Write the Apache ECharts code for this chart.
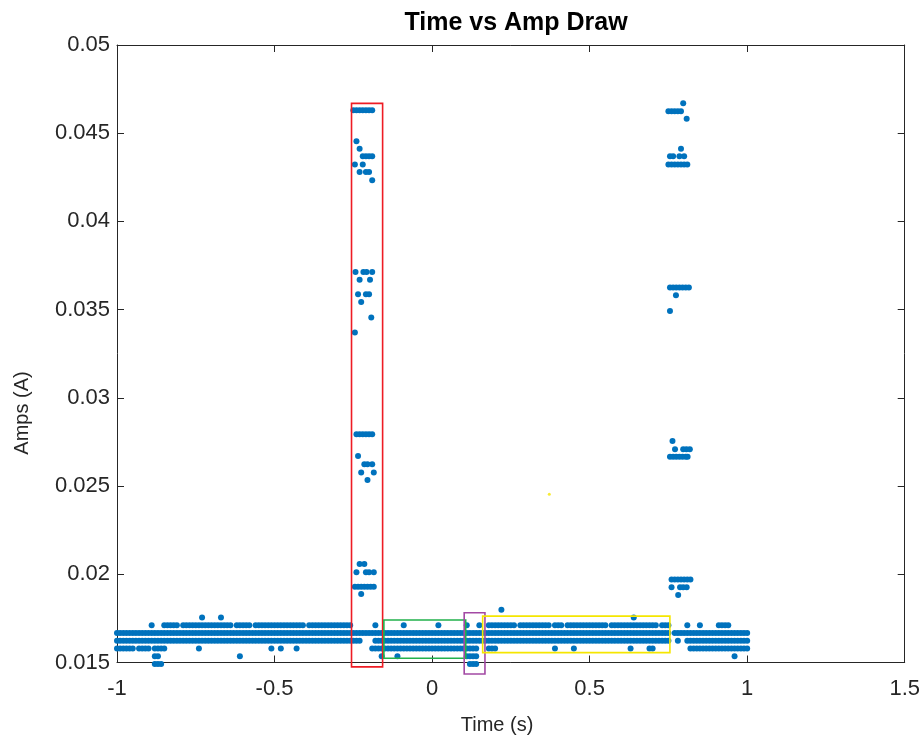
<!DOCTYPE html>
<html>
<head>
<meta charset="utf-8">
<script src="https://cdn.jsdelivr.net/npm/echarts@6/dist/echarts.min.js"></script>
<style>html,body{margin:0;padding:0;background:#fff}#chart{width:923px;height:740px}</style>
</head>
<body>
<div id="chart"></div>
<script>
// ---------------- DATA ----------------
// Quantised current levels (A) in the dense base band
const levelA = 0.01491, levelB = 0.01535, levelC = 0.01579, levelD = 0.01623;
const levelE = 0.01667, levelF = 0.01711, levelG = 0.01755, levelH = 0.01799;

// Band occupancy: one character per time sample,
// samples at t = -1.00, -0.99, ... , 1.00 (groups of ten for readability)
const maskStart = -1.0, maskStep = 0.01;
const maskE = "1111111111 1111111111 1111111111 1111111111 1111111111 1111111111 1111111111 1111111111 1111111111 1111111111 1111111111 1111111111 1111111111 1111111111 1111111111 1111111111 1111111111 1111110111 1111111111 1111111111 1";
const maskD = "1111111111 1111111111 1111111111 1111111111 1111111111 1111111111 1111111111 1111111100 0011111111 1111111111 1111111111 1111111111 1111111111 1111111111 1111111111 1111111111 1111111111 1111110010 0111111111 1111111111 1";
const maskF = "0000000000 0100011111 0111111111 1111111011 1110111111 1111111111 0111111111 1111100000 0010000000 0100000000 0010000000 0100010011 1111111011 1111111101 1101111111 1111110111 1111111111 1101110000 0100010000 0111100000 0";
const maskC = "1111110111 1011110000 0000001000 0000000000 0000000001 0010000100 0000000000 0000000000 0111111111 1111111111 1111111111 1111100011 1000000000 0000000001 0000010000 0000000000 0001000001 1000000000 0011111111 1111111111 1";

// Sparse band samples (time, s)
const timesB = [-0.88, -0.87, -0.61, -0.16, -0.11, 0.11, 0.12, 0.13, 0.14, 0.96];
const timesA = [-0.88, -0.87, -0.86, 0.12, 0.13, 0.14];
const timesG = [-0.73, -0.67, 0.64];
const timesH = [0.22];

// Spike burst around t = -0.22 s : [time, amps]
const burst1 = [
  [-0.25,0.0463],[-0.24,0.0463],[-0.23,0.0463],[-0.22,0.0463],[-0.21,0.0463],[-0.20,0.0463],[-0.19,0.0463],
  [-0.24,0.04455],[-0.23,0.04412],
  [-0.22,0.04369],[-0.21,0.04369],[-0.20,0.04369],[-0.19,0.04369],
  [-0.245,0.04323],[-0.22,0.04323],
  [-0.23,0.0428],[-0.21,0.0428],[-0.20,0.0428],[-0.19,0.04233],
  [-0.243,0.03713],[-0.218,0.03713],[-0.208,0.03713],[-0.19,0.03713],
  [-0.23,0.0367],[-0.197,0.0367],
  [-0.235,0.03587],[-0.21,0.03587],[-0.20,0.03587],
  [-0.225,0.03543],[-0.193,0.03455],[-0.245,0.0337],
  [-0.24,0.02794],[-0.23,0.02794],[-0.22,0.02794],[-0.21,0.02794],[-0.20,0.02794],[-0.19,0.02794],
  [-0.235,0.0267],[-0.215,0.02624],[-0.205,0.02624],[-0.19,0.02624],
  [-0.225,0.02577],[-0.185,0.02577],[-0.205,0.02534],
  [-0.23,0.02058],[-0.215,0.02058],
  [-0.24,0.02011],[-0.21,0.02011],[-0.20,0.02011],[-0.185,0.02011],
  [-0.245,0.01929],[-0.235,0.01929],[-0.225,0.01929],[-0.215,0.01929],[-0.205,0.01929],[-0.195,0.01929],[-0.185,0.01929],
  [-0.225,0.01888]
];

// Spike burst around t = 0.78 s : [time, amps]
const burst2 = [
  [0.797,0.0467],
  [0.75,0.04625],[0.76,0.04625],[0.77,0.04625],[0.78,0.04625],[0.79,0.04625],
  [0.808,0.04582],[0.79,0.04412],
  [0.755,0.04369],[0.765,0.04369],[0.785,0.04369],[0.80,0.04369],
  [0.75,0.04323],[0.76,0.04323],[0.77,0.04323],[0.78,0.04323],[0.79,0.04323],[0.80,0.04323],[0.81,0.04323],
  [0.755,0.03625],[0.765,0.03625],[0.775,0.03625],[0.785,0.03625],[0.795,0.03625],[0.805,0.03625],[0.815,0.03625],
  [0.774,0.03581],[0.755,0.03492],
  [0.763,0.02756],
  [0.771,0.02709],[0.797,0.02709],[0.807,0.02709],[0.818,0.02709],
  [0.755,0.02666],[0.765,0.02666],[0.775,0.02666],[0.785,0.02666],[0.795,0.02666],[0.805,0.02666],[0.811,0.02666],
  [0.76,0.01971],[0.77,0.01971],[0.78,0.01971],[0.79,0.01971],[0.80,0.01971],[0.81,0.01971],[0.82,0.01971],
  [0.76,0.01926],[0.787,0.01926],[0.797,0.01926],[0.808,0.01926],
  [0.781,0.01882]
];

// Single marker (yellow)
const markerPoint = [[0.372, 0.02454]];

// Annotation boxes: [tStart, tEnd, ampLow, ampHigh]
const boxes = [
  [-0.2557, -0.1570, 0.01475, 0.04669],
  [-0.1530,  0.1067, 0.01524, 0.01741],
  [ 0.1019,  0.1678, 0.01435, 0.01782],
  [ 0.1605,  0.7548, 0.01556, 0.01763]
];
const boxColors = ['#ee1c24', '#22b14c', '#a349a4', '#f5e600'];

// Axis ticks
const xMin = -1, xMax = 1.5, xStep = 0.5;
const yMin = 0.015, yMax = 0.05, yStep = 0.005;

// ---------------- BUILD ----------------
function fromMask(mask, level) {
  const s = mask.replace(/\s+/g, '');
  const out = [];
  for (let i = 0; i < s.length; i++) {
    if (s[i] === '1') out.push([+(maskStart + i * maskStep).toFixed(2), level]);
  }
  return out;
}
function fromTimes(times, level) { return times.map(t => [t, level]); }

const points = [].concat(
  fromMask(maskE, levelE), fromMask(maskD, levelD), fromMask(maskF, levelF), fromMask(maskC, levelC),
  fromTimes(timesB, levelB), fromTimes(timesA, levelA), fromTimes(timesG, levelG), fromTimes(timesH, levelH),
  burst1, burst2
);

const FONT = '"Liberation Sans", Arial, Helvetica, sans-serif';
const AX = '#262626';
const fmt = v => String(parseFloat(v.toFixed(4)));

const chart = echarts.init(document.getElementById('chart'), null, {renderer: 'canvas'});
chart.setOption({
  animation: false,
  backgroundColor: '#ffffff',
  title: {
    text: 'Time vs Amp Draw', left: 511, top: 6, textAlign: 'center',
    textStyle: {fontFamily: FONT, fontSize: 25, fontWeight: 'bold', color: '#000'}
  },
  graphic: [
    {type: 'text', x: 497, y: 725, style: {text: 'Time (s)', font: '20px ' + FONT, fill: AX, textAlign: 'center', textVerticalAlign: 'middle'}},
    {type: 'text', x: 22, y: 413, rotation: Math.PI / 2, style: {text: 'Amps (A)', font: '20px ' + FONT, fill: AX, textAlign: 'center', textVerticalAlign: 'middle'}}
  ],
  grid: {left: 117, right: 17, top: 45, bottom: 77.5, containLabel: false},
  xAxis: [{
    type: 'value', min: xMin, max: xMax, interval: xStep,
    axisLine: {show: true, onZero: false, lineStyle: {color: AX, width: 1}},
    axisTick: {show: true, inside: true, length: 7, lineStyle: {color: AX}},
    axisLabel: {fontFamily: FONT, fontSize: 22, color: AX, margin: 15, formatter: fmt},
    splitLine: {show: false}
  }, {
    type: 'value', min: xMin, max: xMax, interval: xStep, position: 'top',
    axisLine: {show: true, onZero: false, lineStyle: {color: AX, width: 1}},
    axisTick: {show: true, inside: true, length: 7, lineStyle: {color: AX}},
    axisLabel: {show: false}, splitLine: {show: false}
  }],
  yAxis: [{
    type: 'value', min: yMin, max: yMax, interval: yStep,
    axisLine: {show: true, onZero: false, lineStyle: {color: AX, width: 1}},
    axisTick: {show: true, inside: true, length: 7, lineStyle: {color: AX}},
    axisLabel: {fontFamily: FONT, fontSize: 22, color: AX, margin: 7, formatter: fmt},
    splitLine: {show: false}
  }, {
    type: 'value', min: yMin, max: yMax, interval: yStep, position: 'right',
    axisLine: {show: true, onZero: false, lineStyle: {color: AX, width: 1}},
    axisTick: {show: true, inside: true, length: 7, lineStyle: {color: AX}},
    axisLabel: {show: false}, splitLine: {show: false}
  }],
  series: [{
    type: 'scatter', data: points, symbol: 'circle', symbolSize: 6,
    itemStyle: {color: '#0072BD', opacity: 1}, clip: false, silent: true
  }, {
    type: 'custom', data: boxes, clip: false, silent: true, z: 5,
    encode: {x: [0, 1], y: [2, 3]},
    renderItem: function (params, api) {
      const p0 = api.coord([api.value(0), api.value(3)]);
      const p1 = api.coord([api.value(1), api.value(2)]);
      return {
        type: 'rect',
        shape: {x: p0[0], y: p0[1], width: p1[0] - p0[0], height: p1[1] - p0[1]},
        style: {fill: 'none', stroke: boxColors[params.dataIndex], lineWidth: 1.6}
      };
    }
  }, {
    type: 'scatter', data: markerPoint, symbol: 'circle', symbolSize: 3,
    itemStyle: {color: '#f5e600'}, silent: true, z: 6
  }]
});
</script>
</body>
</html>
